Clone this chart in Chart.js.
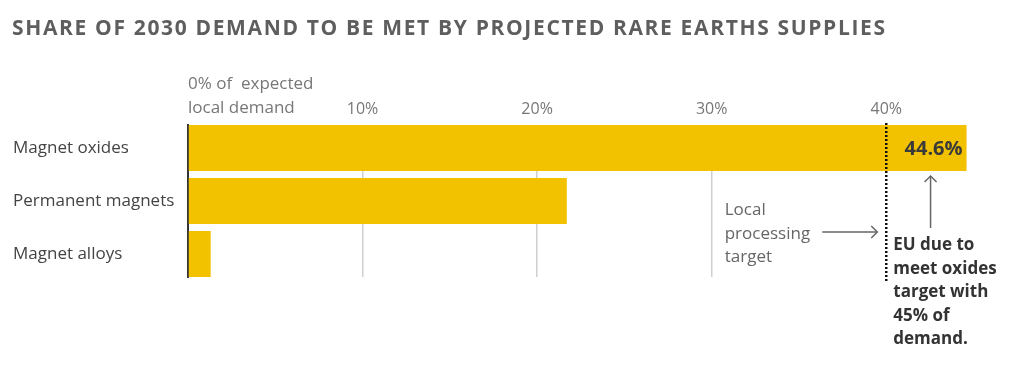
<!DOCTYPE html>
<html>
<head>
<meta charset="utf-8">
<script src="https://cdn.jsdelivr.net/npm/chart.js@4"></script>
<style>
  html, body { margin: 0; padding: 0; background: #fff; }
  #wrap { width: 1010px; height: 366px; position: relative; }
</style>
</head>
<body>
<div id="wrap"><canvas id="chart"></canvas></div>
<script>
// chart data
const categories = ['Magnet oxides', 'Permanent magnets', 'Magnet alloys'];
const shares = [44.6, 21.7, 1.3];
const gridValues = [10, 20, 30];
const zeroTickLines = ['0% of  expected', 'local demand'];
const targetShare = 40;
const leftNote = ['Local', 'processing', 'target'];
const rightNote = ['EU due to', 'meet oxides', 'target with', '45% of', 'demand.'];
const titleText = 'SHARE OF 2030 DEMAND TO BE MET BY PROJECTED RARE EARTHS SUPPLIES';

const FONT = "'Open Sans', sans-serif";
const BAR_COLOR = '#f2c100';

function arrowHead(ctx, x, y, dir) {
    // open chevron, dir 'up' or 'right'
    ctx.beginPath();
    if (dir === 'up') {
        ctx.moveTo(x - 6, y + 6);
        ctx.lineTo(x, y);
        ctx.lineTo(x + 6, y + 6);
    } else {
        ctx.moveTo(x - 6, y - 6);
        ctx.lineTo(x, y);
        ctx.lineTo(x - 6, y + 6);
    }
    ctx.stroke();
}

const annotations = {
    id: 'annotations',
    afterDraw(chart) {
        const ctx = chart.ctx;
        const xs = chart.scales.x;
        const area = chart.chartArea;
        const bars = chart.getDatasetMeta(0).data;
        ctx.save();

        // title
        ctx.fillStyle = '#5e5e5e';
        ctx.font = `bold 21px ${FONT}`;
        ctx.letterSpacing = '1.65px';
        ctx.textAlign = 'left';
        ctx.textBaseline = 'alphabetic';
        ctx.fillText(titleText, 12, 35);
        ctx.letterSpacing = '0px';

        // label of the zero tick, left aligned on the axis
        const x0 = xs.getPixelForValue(0);
        ctx.fillStyle = '#777';
        ctx.font = `17px ${FONT}`;
        ctx.fillText(zeroTickLines[0], x0, 89);
        ctx.fillText(zeroTickLines[1], x0, 113);

        // dotted target line
        const xt = xs.getPixelForValue(targetShare);
        ctx.strokeStyle = '#111';
        ctx.lineWidth = 2.5;
        ctx.setLineDash([2, 2]);
        ctx.beginPath();
        ctx.moveTo(xt, area.top - 2);
        ctx.lineTo(xt, area.bottom + 6);
        ctx.stroke();
        ctx.setLineDash([]);

        // value label inside the first bar
        const top = bars[0];
        ctx.fillStyle = '#3a3a3a';
        ctx.font = `bold 20px ${FONT}`;
        ctx.textAlign = 'right';
        ctx.textBaseline = 'middle';
        ctx.fillText(shares[0].toFixed(1) + '%', top.x - 4, top.y + 1);

        // arrows
        ctx.strokeStyle = '#666';
        ctx.lineWidth = 1.5;
        const ax = top.x - 36;
        const barBottom = top.y + top.height / 2;
        ctx.beginPath();
        ctx.moveTo(ax, barBottom + 5);
        ctx.lineTo(ax, barBottom + 57);
        ctx.stroke();
        arrowHead(ctx, ax, barBottom + 5, 'up');

        ctx.beginPath();
        ctx.moveTo(xt - 64, 232);
        ctx.lineTo(xt - 9, 232);
        ctx.stroke();
        arrowHead(ctx, xt - 9, 232, 'right');

        // notes
        ctx.textAlign = 'left';
        ctx.textBaseline = 'alphabetic';
        ctx.fillStyle = '#666';
        ctx.font = `17px ${FONT}`;
        const x30 = xs.getPixelForValue(30);
        leftNote.forEach((line, i) => ctx.fillText(line, x30 + 13, 215 + i * 23.5));

        ctx.fillStyle = '#333';
        ctx.font = `bold 17px ${FONT}`;
        rightNote.forEach((line, i) => ctx.fillText(line, xt + 7, 250 + i * 23.5));

        ctx.restore();
    }
};

new Chart(document.getElementById('chart'), {
    type: 'bar',
    data: {
        datasets: [{
            data: shares.map((v, i) => ({ x: v, y: i })),
            backgroundColor: BAR_COLOR,
            borderWidth: 0,
            barPercentage: 0.868,
            categoryPercentage: 1
        }]
    },
    options: {
        indexAxis: 'y',
        responsive: true,
        maintainAspectRatio: false,
        animation: false,
        layout: { padding: { left: 13, right: 19, top: 0, bottom: 89 } },
        plugins: {
            legend: { display: false },
            tooltip: { enabled: false }
        },
        scales: {
            x: {
                type: 'linear',
                position: 'top',
                min: 0,
                max: 46,
                bounds: 'data',
                ticks: {
                    stepSize: 10,
                    includeBounds: false,
                    padding: 6,
                    color: '#777',
                    font: { family: FONT, size: 16 },
                    callback: v => (gridValues.includes(v) || v === targetShare ? v + '%' : '')
                },
                grid: {
                    drawTicks: false,
                    lineWidth: 1.5,
                    color: c => (gridValues.includes(c.tick && c.tick.value) ? '#cfcfcf' : 'rgba(0,0,0,0)')
                },
                border: { display: false },
                afterFit: s => { s.height = 125; }
            },
            y: {
                type: 'linear',
                reverse: true,
                offset: false,
                min: -0.434,
                max: 2.434,
                ticks: {
                    stepSize: 1,
                    crossAlign: 'far',
                    color: '#444',
                    font: { family: FONT, size: 17 },
                    callback: v => categories[v]
                },
                grid: { display: false, offset: false },
                border: { display: true, color: '#333', width: 2 },
                // keep only the category ticks (bounds are already applied)
                afterBuildTicks: s => { s.ticks = s.ticks.filter(t => Number.isInteger(t.value)); },
                afterFit: s => { s.width = 175; }
            }
        }
    },
    plugins: [annotations]
});
</script>
</body>
</html>
